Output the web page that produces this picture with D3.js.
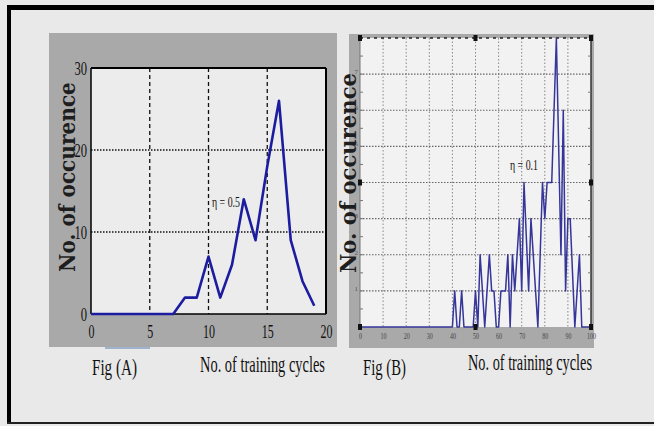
<!DOCTYPE html>
<html>
<head>
<meta charset="utf-8">
<script src="https://cdn.jsdelivr.net/npm/d3@7"></script>
<style>
  html, body { margin: 0; padding: 0; background: #e9e9e9; }
  svg { display: block; }
</style>
</head>
<body>
<svg id="chart" width="654" height="426"></svg>
<script>
// ---------- DATA ----------
// Fig (A): eta = 0.5, training cycles 0..19
const cyclesA = [0,1,2,3,4,5,6,7,8,9,10,11,12,13,14,15,16,17,18,19];
const occurA  = [0,0,0,0,0,0,0,0,2,2,7,2,6,14,9,18,26,9,4,1];
const xTicksA = [0,5,10,15,20];
const yTicksA = [0,10,20,30];

// Fig (B): eta = 0.1, training cycles 0..100 (vertices of the polyline)
const cyclesB = [0,40,41,42,43,44,45,49,50,51,52,54,56,57,58,59,60,61,63,64,65,66,67,69,70,71,73,74,77,79,80,81,83,85,87,88,89,90,91,93,95,96,100];
const occurB  = [0,0,1,0,0,1,0,0,1,0,2,0,2,1,1,0,0,1,1,2,0,2,1,3,1,4,1,3,0,4,3,4,4,8,2,6,1,3,3,0,2,0,0];
const xTicksB = [0,10,20,30,40,50,60,70,80,90,100];
const yTicksB = [1,2,3,5,6,7];
const yGridB  = [1,2,3,4,5,6,7];

const labels = {
  yTitle: "No. of occurence",
  xTitle: "No. of training cycles",
  figA: "Fig (A)",
  figB: "Fig (B)",
  etaA: "\u03B7 = 0.5",
  etaB: "\u03B7 = 0.1"
};

// ---------- DRAW ----------
const svg = d3.select("#chart");
const serif = "'Liberation Serif', 'Times New Roman', serif";

function squeeze(sel, tx, ty, targetW, rotate) {
  sel.each(function () {
    const w = this.getComputedTextLength();
    const sx = targetW / w;
    const rot = rotate ? ` rotate(${rotate})` : "";
    d3.select(this).attr("x", 0).attr("transform", `translate(${tx},${ty})${rot} scale(${sx},1)`);
  });
}
function label(x, y, w, txt, size, opts = {}) {
  const t = svg.append("text")
    .attr("font-family", opts.family || serif)
    .attr("font-weight", opts.weight || "normal")
    .attr("font-size", size)
    .attr("fill", opts.fill || "#111")
    .attr("text-anchor", opts.anchor || "start")
    .text(txt);
  squeeze(t, x, y, w, opts.rotate);
  return t;
}

svg.append("rect").attr("width", 654).attr("height", 426).attr("fill", "#e9e9e9");

// outer frame
svg.append("rect").attr("x", 7).attr("y", 5).attr("width", 647).attr("height", 5).attr("fill", "#000");
svg.append("rect").attr("x", 7).attr("y", 5).attr("width", 4).attr("height", 419).attr("fill", "#000");
svg.append("line").attr("x1", 7).attr("x2", 654).attr("y1", 423).attr("y2", 423)
  .attr("stroke", "#222").attr("stroke-width", 2);

// ===== Fig A =====
svg.append("rect").attr("x", 49).attr("y", 33).attr("width", 288).attr("height", 314).attr("fill", "#a9a9a9");
const xA = d3.scaleLinear().domain([0, 20]).range([91, 326]);
const yA = d3.scaleLinear().domain([0, 30]).range([314, 68]);
svg.append("rect").attr("x", xA(0)).attr("y", yA(30)).attr("width", xA(20) - xA(0)).attr("height", yA(0) - yA(30))
  .attr("fill", "#ececec");

const gA = svg.append("g");
gA.selectAll(".vgA").data([5, 10, 15]).join("line")
  .attr("x1", d => xA(d)).attr("x2", d => xA(d)).attr("y1", yA(30)).attr("y2", yA(0))
  .attr("stroke", "#111").attr("stroke-width", 1.3).attr("stroke-dasharray", "4,3");
gA.selectAll(".hgA").data([10, 20]).join("line")
  .attr("x1", xA(0)).attr("x2", xA(20)).attr("y1", d => yA(d)).attr("y2", d => yA(d))
  .attr("stroke", "#111").attr("stroke-width", 1.6).attr("stroke-dasharray", "1.5,1.5");
gA.append("line").attr("x1", xA(0)).attr("x2", xA(20)).attr("y1", yA(30)).attr("y2", yA(30)).attr("stroke", "#000").attr("stroke-width", 2);
gA.append("line").attr("x1", xA(20)).attr("x2", xA(20)).attr("y1", yA(30)).attr("y2", yA(0)).attr("stroke", "#000").attr("stroke-width", 2);
gA.append("line").attr("x1", xA(0)).attr("x2", xA(0)).attr("y1", yA(30)).attr("y2", yA(0)).attr("stroke", "#000").attr("stroke-width", 1.5);
gA.append("line").attr("x1", xA(0)).attr("x2", xA(20)).attr("y1", yA(0)).attr("y2", yA(0)).attr("stroke", "#000").attr("stroke-width", 1.5);

gA.append("path")
  .datum(cyclesA.map((c, i) => [c, occurA[i]]))
  .attr("fill", "none").attr("stroke", "#1c1ca0").attr("stroke-width", 2.6).attr("stroke-linejoin", "round")
  .attr("d", d3.line().x(d => xA(d[0])).y(d => yA(d[1])));

const axLA = svg.append("g").attr("transform", `translate(${xA(0)},0)`)
  .call(d3.axisLeft(yA).tickValues(yTicksA).tickSize(0).tickPadding(4));
axLA.select(".domain").remove();
axLA.selectAll("text").attr("font-family", serif).attr("font-size", 19).attr("fill", "#111")
  .attr("dy", "0.34em")
  .each(function (d) { squeeze(d3.select(this), -4, 0, String(d).length * 6.3); });

const axBA = svg.append("g").attr("transform", `translate(0,${yA(0)})`)
  .call(d3.axisBottom(xA).tickValues(xTicksA).tickSize(0).tickPadding(0));
axBA.select(".domain").remove();
axBA.selectAll("text").attr("font-family", serif).attr("font-size", 19).attr("fill", "#111")
  .attr("y", 0).attr("dy", 0)
  .each(function (d) { squeeze(d3.select(this), 0, 24, String(d).length * 6); });

label(75, 177, 190, labels.yTitle, 23, { family: "'DejaVu Serif', serif", weight: "bold", anchor: "middle", rotate: -90, fill: "#1e1e1e" });
label(212, 207, 28, labels.etaA, 15);

svg.append("line").attr("x1", 105).attr("x2", 150).attr("y1", 348).attr("y2", 348)
  .attr("stroke", "#9fb3cf").attr("stroke-width", 2);

label(92, 375, 45, labels.figA, 24);
label(200, 372, 125, labels.xTitle, 24);

// ===== Fig B =====
svg.append("rect").attr("x", 349).attr("y", 34).attr("width", 245).attr("height", 314).attr("fill", "#a9a9a9");
const xB = d3.scaleLinear().domain([0, 100]).range([360, 591]);
const yB = d3.scaleLinear().domain([0, 8]).range([327, 38]);
svg.append("rect").attr("x", xB(0)).attr("y", yB(8)).attr("width", xB(100) - xB(0)).attr("height", yB(0) - yB(8))
  .attr("fill", "#f2f2f2");

const gB = svg.append("g");
gB.selectAll(".vgB").data(xTicksB.slice(1, -1)).join("line")
  .attr("x1", d => xB(d)).attr("x2", d => xB(d)).attr("y1", yB(8)).attr("y2", yB(0))
  .attr("stroke", "#888").attr("stroke-width", 1).attr("stroke-dasharray", "1.5,2");
gB.selectAll(".hgB").data(yGridB).join("line")
  .attr("x1", xB(0)).attr("x2", xB(100)).attr("y1", d => yB(d)).attr("y2", d => yB(d))
  .attr("stroke", "#666").attr("stroke-width", 1.2).attr("stroke-dasharray", "1.5,1.5");
gB.append("line").attr("x1", xB(0)).attr("x2", xB(100)).attr("y1", yB(8)).attr("y2", yB(8))
  .attr("stroke", "#222").attr("stroke-width", 1.5).attr("stroke-dasharray", "3,4");
gB.append("line").attr("x1", xB(100)).attr("x2", xB(100)).attr("y1", yB(8)).attr("y2", yB(0))
  .attr("stroke", "#333").attr("stroke-width", 1.5);
gB.append("line").attr("x1", xB(0)).attr("x2", xB(0)).attr("y1", yB(8)).attr("y2", yB(0))
  .attr("stroke", "#777").attr("stroke-width", 1);
const minorB = d3.range(0.5, 8, 0.5);
gB.selectAll(".mtl").data(minorB).join("line")
  .attr("x1", xB(0)).attr("x2", xB(0) + 3).attr("y1", d => yB(d)).attr("y2", d => yB(d))
  .attr("stroke", "#777").attr("stroke-width", 1);
gB.selectAll(".mtr").data(minorB).join("line")
  .attr("x1", xB(100) - 3).attr("x2", xB(100)).attr("y1", d => yB(d)).attr("y2", d => yB(d))
  .attr("stroke", "#777").attr("stroke-width", 1);

gB.append("path")
  .datum(cyclesB.map((c, i) => [c, occurB[i]]))
  .attr("fill", "none").attr("stroke", "#35359a").attr("stroke-width", 1.5).attr("stroke-linejoin", "round")
  .attr("d", d3.line().x(d => xB(d[0])).y(d => yB(d[1])));

const markB = [[0,0],[50,0],[100,0],[0,4],[100,4],[0,8],[50,8],[100,8]];
gB.selectAll(".mk").data(markB).join("rect")
  .attr("x", d => xB(d[0]) - 2).attr("y", d => yB(d[1]) - 3).attr("width", 4).attr("height", 6)
  .attr("fill", "#111");

const axLB = svg.append("g").attr("transform", `translate(${xB(0)},0)`)
  .call(d3.axisLeft(yB).tickValues(yTicksB).tickSize(0).tickPadding(2));
axLB.select(".domain").remove();
axLB.selectAll("text").attr("font-family", serif).attr("font-size", 7).attr("fill", "#555")
  .attr("dy", "-0.1em");

const axBB = svg.append("g").attr("transform", `translate(0,${yB(0)})`)
  .call(d3.axisBottom(xB).tickValues(xTicksB).tickSize(0).tickPadding(0));
axBB.select(".domain").remove();
axBB.selectAll("text").attr("font-family", serif).attr("font-size", 9).attr("fill", "#444")
  .attr("y", 0).attr("dy", 0)
  .each(function (d) { squeeze(d3.select(this), 0, 12, String(d).length * 3); });

label(356, 173, 200, labels.yTitle, 22, { family: "'DejaVu Serif', serif", weight: "bold", anchor: "middle", rotate: -90, fill: "#1e1e1e" });
label(510, 170, 28, labels.etaB, 15);
label(363, 375, 43, labels.figB, 24);
label(468, 370, 124, labels.xTitle, 24);
</script>
</body>
</html>
